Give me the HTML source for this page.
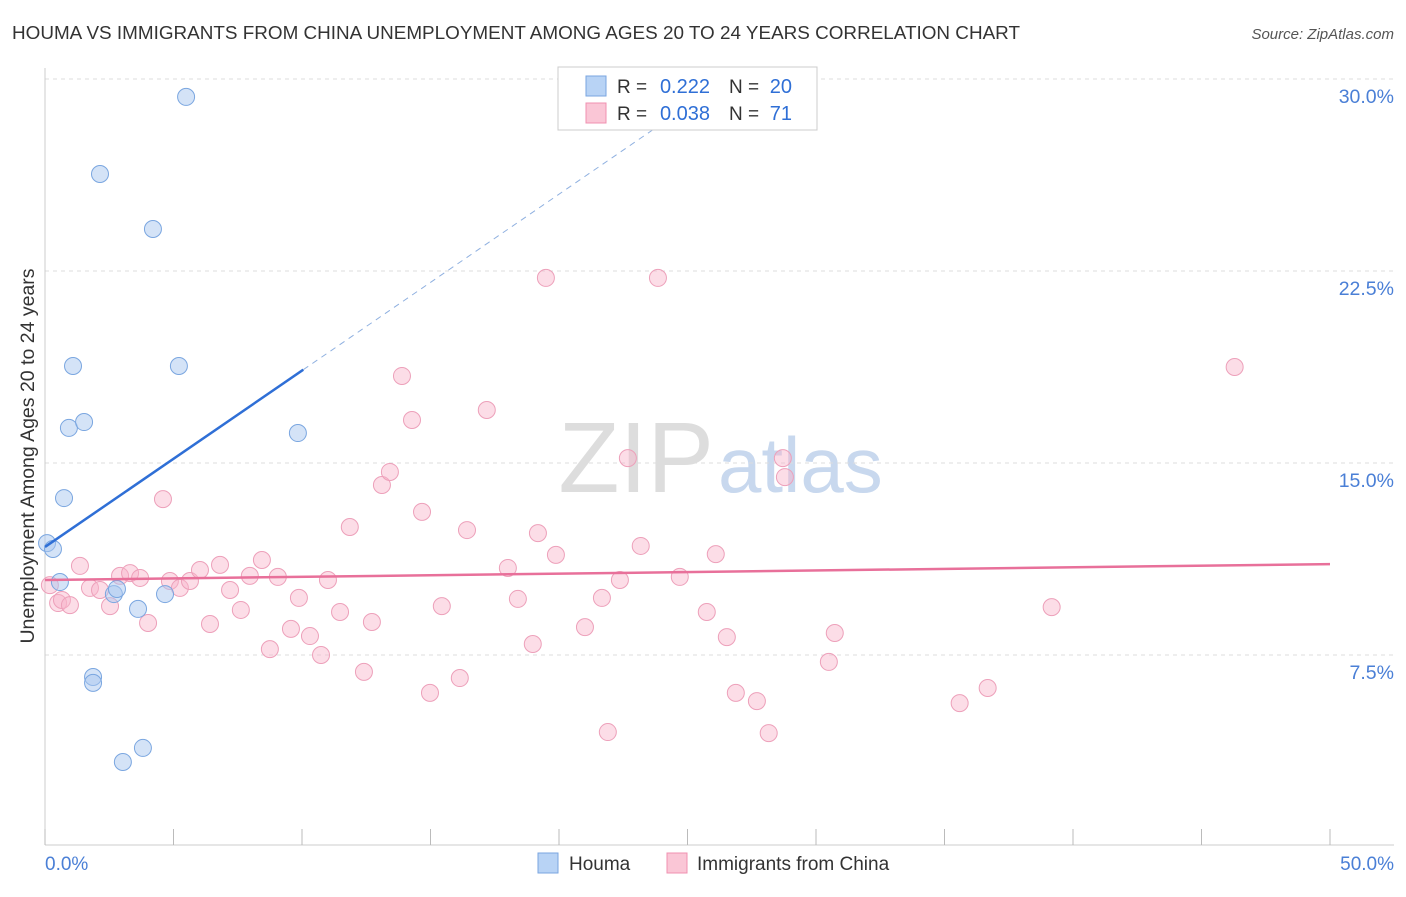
<!DOCTYPE html>
<html><head><meta charset="utf-8">
<style>
body{margin:0;background:#fff;font-family:"Liberation Sans",sans-serif;}
svg text{font-family:"Liberation Sans",sans-serif;}
</style></head>
<body>
<svg id="chart" width="1406" height="892" xmlns="http://www.w3.org/2000/svg">
<text x="12" y="39" font-size="18" fill="#333" textLength="1008" lengthAdjust="spacingAndGlyphs">HOUMA VS IMMIGRANTS FROM CHINA UNEMPLOYMENT AMONG AGES 20 TO 24 YEARS CORRELATION CHART</text>
<text x="1394" y="39" font-size="15" fill="#555" font-style="italic" text-anchor="end">Source: ZipAtlas.com</text>
<text x="714" y="492" font-size="100" fill="#ddd" text-anchor="end" font-family="Liberation Serif">ZIP</text>
<text x="718" y="492" font-size="78" fill="#c8d8ee">atlas</text>
<g id="grid"></g>
<g id="axes"></g>
<g id="pts"></g>
<g id="lines"></g>
<text transform="translate(34,456) rotate(-90)" font-size="19.5" fill="#333" text-anchor="middle">Unemployment Among Ages 20 to 24 years</text>
<text x="45" y="870" font-size="19" fill="#4a7fd6">0.0%</text>
<text x="1394" y="870" font-size="19" fill="#4a7fd6" text-anchor="end">50.0%</text>
<g>
<rect x="558" y="67" width="259" height="63" fill="#fff" stroke="#ccc"/>
<rect x="586" y="76" width="20" height="20" fill="#b8d3f5" stroke="#7aa6e0"/>
<rect x="586" y="103" width="20" height="20" fill="#fac6d6" stroke="#f090b0"/>
<text x="617" y="93" font-size="19" fill="#333">R =</text>
<text x="710" y="93" font-size="20" fill="#2f6fd6" text-anchor="end">0.222</text>
<text x="729" y="93" font-size="19" fill="#333">N =</text>
<text x="792" y="93" font-size="20" fill="#2f6fd6" text-anchor="end">20</text>
<text x="617" y="120" font-size="19" fill="#333">R =</text>
<text x="710" y="120" font-size="20" fill="#2f6fd6" text-anchor="end">0.038</text>
<text x="729" y="120" font-size="19" fill="#333">N =</text>
<text x="792" y="120" font-size="20" fill="#2f6fd6" text-anchor="end">71</text>
</g>
<g>
<rect x="538" y="853" width="20" height="20" fill="#b8d3f5" stroke="#7aa6e0"/>
<text x="569" y="870" font-size="19" fill="#333">Houma</text>
<rect x="667" y="853" width="20" height="20" fill="#fac6d6" stroke="#f090b0"/>
<text x="697" y="870" font-size="19" fill="#333">Immigrants from China</text>
</g>
</svg>
<script>
const houmaX=[0.08,0.31,0.58,0.74,0.93,1.09,1.52,1.87,1.87,2.14,2.68,2.80,3.03,3.62,3.81,4.20,4.67,5.21,5.49,9.84];
const houmaY=[11.87,11.64,10.35,13.63,16.37,18.79,16.60,6.64,6.41,26.29,9.88,10.08,3.32,9.30,3.87,24.14,9.88,18.79,29.30,16.17];
const chinaX=[0.19,0.51,0.66,0.97,1.36,1.75,2.14,2.53,2.92,3.31,3.70,4.01,4.59,4.86,5.25,5.64,6.03,6.42,6.81,7.20,7.62,7.97,8.44,8.75,9.06,9.57,9.88,10.31,10.74,11.01,11.48,11.86,12.41,12.72,13.11,13.42,13.89,14.28,14.67,14.98,15.44,16.14,16.42,17.19,18.01,18.40,18.98,19.18,19.49,19.88,21.01,21.67,21.90,22.37,22.68,23.18,23.85,24.70,25.75,26.10,26.53,26.88,27.70,28.16,28.71,28.79,30.50,30.73,35.59,36.68,39.17,46.29];
const chinaY=[10.23,9.53,9.65,9.45,10.98,10.12,10.04,9.41,10.59,10.70,10.51,8.75,13.59,10.39,10.12,10.39,10.82,8.71,11.02,10.04,9.26,10.59,11.21,7.73,10.55,8.52,9.73,8.24,7.50,10.43,9.18,12.50,6.84,8.79,14.14,14.65,18.40,16.68,13.09,6.02,9.41,6.60,12.38,17.07,10.90,9.69,7.93,12.26,22.23,11.41,8.59,9.73,4.49,10.43,15.19,11.76,22.23,10.55,9.18,11.44,8.20,6.02,5.70,4.45,15.19,14.45,7.23,8.36,5.62,6.21,9.37,18.75];
const yTicks=[7.5,15,22.5,30];
const yTickLabels=["7.5%","15.0%","22.5%","30.0%"];
const xTicks=[0,5,10,15,20,25,30,35,40,45,50];
const houmaTrend=[11.72,0.689];
const chinaTrend=[10.43,0.0124];
const NS="http://www.w3.org/2000/svg";
const sx=v=>45+v/50*1285;
const sy=v=>847-v/7.5*192;
function mk(tag,attrs,parent){const e=document.createElementNS(NS,tag);for(const k in attrs)e.setAttribute(k,attrs[k]);document.getElementById(parent).appendChild(e);return e;}
yTicks.forEach((t,i)=>{
 let l=mk('line',{x1:45,x2:1394,y1:sy(t),y2:sy(t),stroke:'#ddd','stroke-dasharray':'4,4'},'grid');
 
 
 let tx=mk('text',{x:1394,y:sy(t)+24,'font-size':19.5,fill:'#4a7fd6','text-anchor':'end'},'grid');
 tx.textContent=yTickLabels[i];
 
 
});
let ax=mk('line',{x1:45,x2:1394,y1:845,y2:845,stroke:'#ccc'},'axes');


let ay=mk('line',{x1:45,x2:45,y1:68,y2:845,stroke:'#ccc'},'axes');


xTicks.forEach(t=>{
 let l=mk('line',{x1:sx(t),x2:sx(t),y1:829,y2:845,stroke:'#bbb'},'axes');
 
 
});
chinaX.forEach((x,i)=>{
 let c=mk('circle',{cx:sx(x),cy:sy(chinaY[i]),r:8.5,fill:'rgba(248,180,202,0.45)',stroke:'#eda0ba','stroke-width':1},'pts');
 
 
});
houmaX.forEach((x,i)=>{
 let c=mk('circle',{cx:sx(x),cy:sy(houmaY[i]),r:8.5,fill:'rgba(170,200,240,0.5)',stroke:'#7aa6e0','stroke-width':1},'pts');
 
 
});
const hy=x=>houmaTrend[0]+houmaTrend[1]*x;
let hl=mk('line',{x1:sx(0),y1:sy(hy(0)),x2:sx(10.05),y2:sy(hy(10.05)),stroke:'#2f6fd6','stroke-width':2.5},'lines');


let hd=mk('line',{x1:sx(10.05),y1:sy(hy(10.05)),x2:sx(24.8),y2:sy(hy(24.8)),stroke:'#8fb0e0','stroke-width':1,'stroke-dasharray':'6,5'},'lines');


const cy=x=>chinaTrend[0]+chinaTrend[1]*x;
let cl=mk('line',{x1:sx(0),y1:sy(cy(0)),x2:sx(50),y2:sy(cy(50)),stroke:'#e8709a','stroke-width':2.5},'lines');


</script>
</body></html>
